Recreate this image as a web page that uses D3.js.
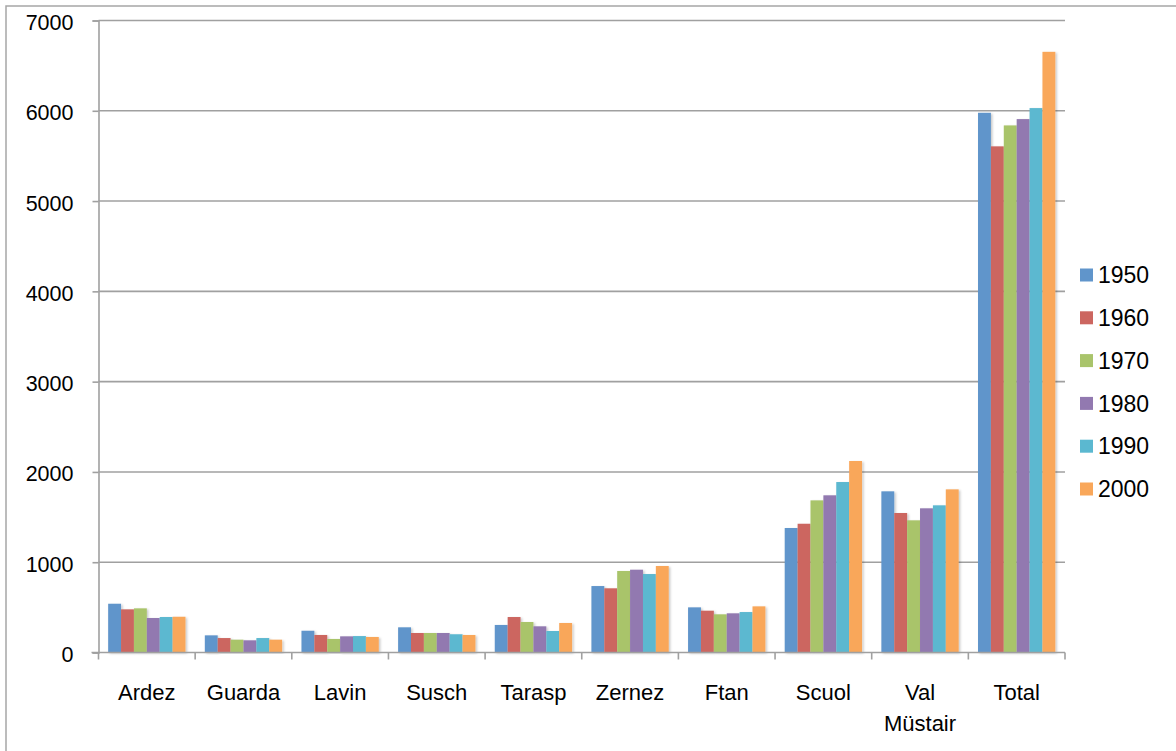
<!DOCTYPE html>
<html>
<head>
<meta charset="utf-8">
<script src="https://cdn.jsdelivr.net/npm/d3@7"></script>
<style>
  html, body { margin: 0; padding: 0; background: #fff; }
  svg { display: block; font-family: "Liberation Sans", Arial, sans-serif; }
</style>
</head>
<body>
<svg id="chart" width="1176" height="751"></svg>
<script>
// Population of the municipalities, by census year
const categories = ["Ardez", "Guarda", "Lavin", "Susch", "Tarasp", "Zernez", "Ftan", "Scuol", "Val\nMüstair", "Total"];
const years = ["1950", "1960", "1970", "1980", "1990", "2000"];
const values1950 = [540, 190, 241, 279, 305, 736, 500, 1379, 1785, 5978];
const values1960 = [478, 160, 194, 216, 393, 711, 463, 1426, 1545, 5606];
const values1970 = [489, 142, 150, 216, 338, 903, 423, 1685, 1464, 5838];
const values1980 = [382, 135, 179, 216, 290, 917, 434, 1741, 1597, 5908];
const values1990 = [393, 160, 182, 202, 238, 869, 448, 1888, 1630, 6030];
const values2000 = [396, 142, 172, 194, 327, 958, 511, 2121, 1807, 6653];
const yTicks = [0, 1000, 2000, 3000, 4000, 5000, 6000, 7000];
const seriesColors = ["#6095cb", "#cc6660", "#a9c46b", "#9279b0", "#5bb8d0", "#f9a75a"];

const series = [values1950, values1960, values1970, values1980, values1990, values2000];

const svg = d3.select("#chart");
const plot = { left: 98.5, right: 1065, top: 20.5, bottom: 652.5 };

// outer chart frame
svg.append("rect")
  .attr("x", 6).attr("y", 6)
  .attr("width", 1180).attr("height", 760)
  .attr("fill", "none").attr("stroke", "#a6a6a6").attr("stroke-width", 1.5);

const y = d3.scaleLinear().domain([0, 7000]).range([plot.bottom, plot.top]);
const x = d3.scaleBand().domain(categories).range([plot.left, plot.right])
  .paddingInner(0.2).paddingOuter(0.1);
const xs = d3.scaleBand().domain(years).range([0, x.bandwidth()]);
const step = x.step();

const axisColor = "#a0a0a0";

// horizontal gridlines
svg.append("g").selectAll("line")
  .data(yTicks.filter(t => t > 0))
  .join("line")
  .attr("x1", plot.left).attr("x2", plot.right)
  .attr("y1", d => y(d)).attr("y2", d => y(d))
  .attr("stroke", axisColor).attr("stroke-width", 1.6);

// subtle bar shadow
const defs = svg.append("defs");
const f = defs.append("filter").attr("id", "shadow")
  .attr("x", "-20%").attr("y", "-5%").attr("width", "150%").attr("height", "115%");
f.append("feDropShadow").attr("dx", 1.5).attr("dy", 1).attr("stdDeviation", 1.2)
  .attr("flood-color", "#000").attr("flood-opacity", 0.22);

// bars
const groups = svg.append("g").selectAll("g")
  .data(categories)
  .join("g")
  .attr("transform", d => `translate(${x(d)},0)`);

groups.selectAll("rect")
  .data((d, i) => years.map((yr, j) => ({ yr, v: series[j][i], c: seriesColors[j] })))
  .join("rect")
  .attr("x", d => xs(d.yr))
  .attr("width", xs.bandwidth())
  .attr("y", d => y(d.v))
  .attr("height", d => y(0) - y(d.v))
  .attr("fill", d => d.c)
  .attr("filter", "url(#shadow)");

// y axis
const yAxis = d3.axisLeft(y).tickValues(yTicks).tickSize(6).tickPadding(19).tickFormat(d3.format("d"));
const gy = svg.append("g").attr("transform", `translate(${plot.left},0)`).call(yAxis);
gy.select(".domain").attr("stroke", axisColor).attr("stroke-width", 1.6);
gy.selectAll(".tick line").attr("stroke", axisColor).attr("stroke-width", 1.6);
gy.selectAll(".tick text").attr("font-size", 21.5).attr("fill", "#000")
  .attr("font-family", "'Liberation Sans', Arial, sans-serif").attr("dy", "0.42em");

// x axis baseline with ticks at category boundaries
svg.append("line")
  .attr("x1", plot.left - 7).attr("x2", plot.right)
  .attr("y1", plot.bottom).attr("y2", plot.bottom)
  .attr("stroke", axisColor).attr("stroke-width", 1.6);
svg.append("g").selectAll("line")
  .data(d3.range(categories.length + 1))
  .join("line")
  .attr("x1", i => plot.left + i * step).attr("x2", i => plot.left + i * step)
  .attr("y1", plot.bottom).attr("y2", plot.bottom + 7)
  .attr("stroke", axisColor).attr("stroke-width", 1.6);

// category labels
const labels = svg.append("g").selectAll("text")
  .data(categories)
  .join("text")
  .attr("x", d => x(d) + x.bandwidth() / 2)
  .attr("y", 700)
  .attr("text-anchor", "middle")
  .attr("font-size", 22)
  .attr("fill", "#000");
labels.each(function (d) {
  const t = d3.select(this);
  d.split("\n").forEach((line, k) => {
    t.append("tspan").attr("x", x(d) + x.bandwidth() / 2).attr("dy", k === 0 ? 0 : 30.5).text(line);
  });
});

// legend
const legend = svg.append("g").selectAll("g")
  .data(years)
  .join("g")
  .attr("transform", (d, i) => `translate(1080,${275 + i * 42.8})`);
legend.append("rect")
  .attr("x", 0).attr("y", -6.5).attr("width", 13).attr("height", 13)
  .attr("fill", (d, i) => seriesColors[i]);
legend.append("text")
  .attr("x", 18).attr("y", 0).attr("dy", "0.36em")
  .attr("font-size", 23).attr("fill", "#000")
  .text(d => d);
</script>
</body>
</html>
